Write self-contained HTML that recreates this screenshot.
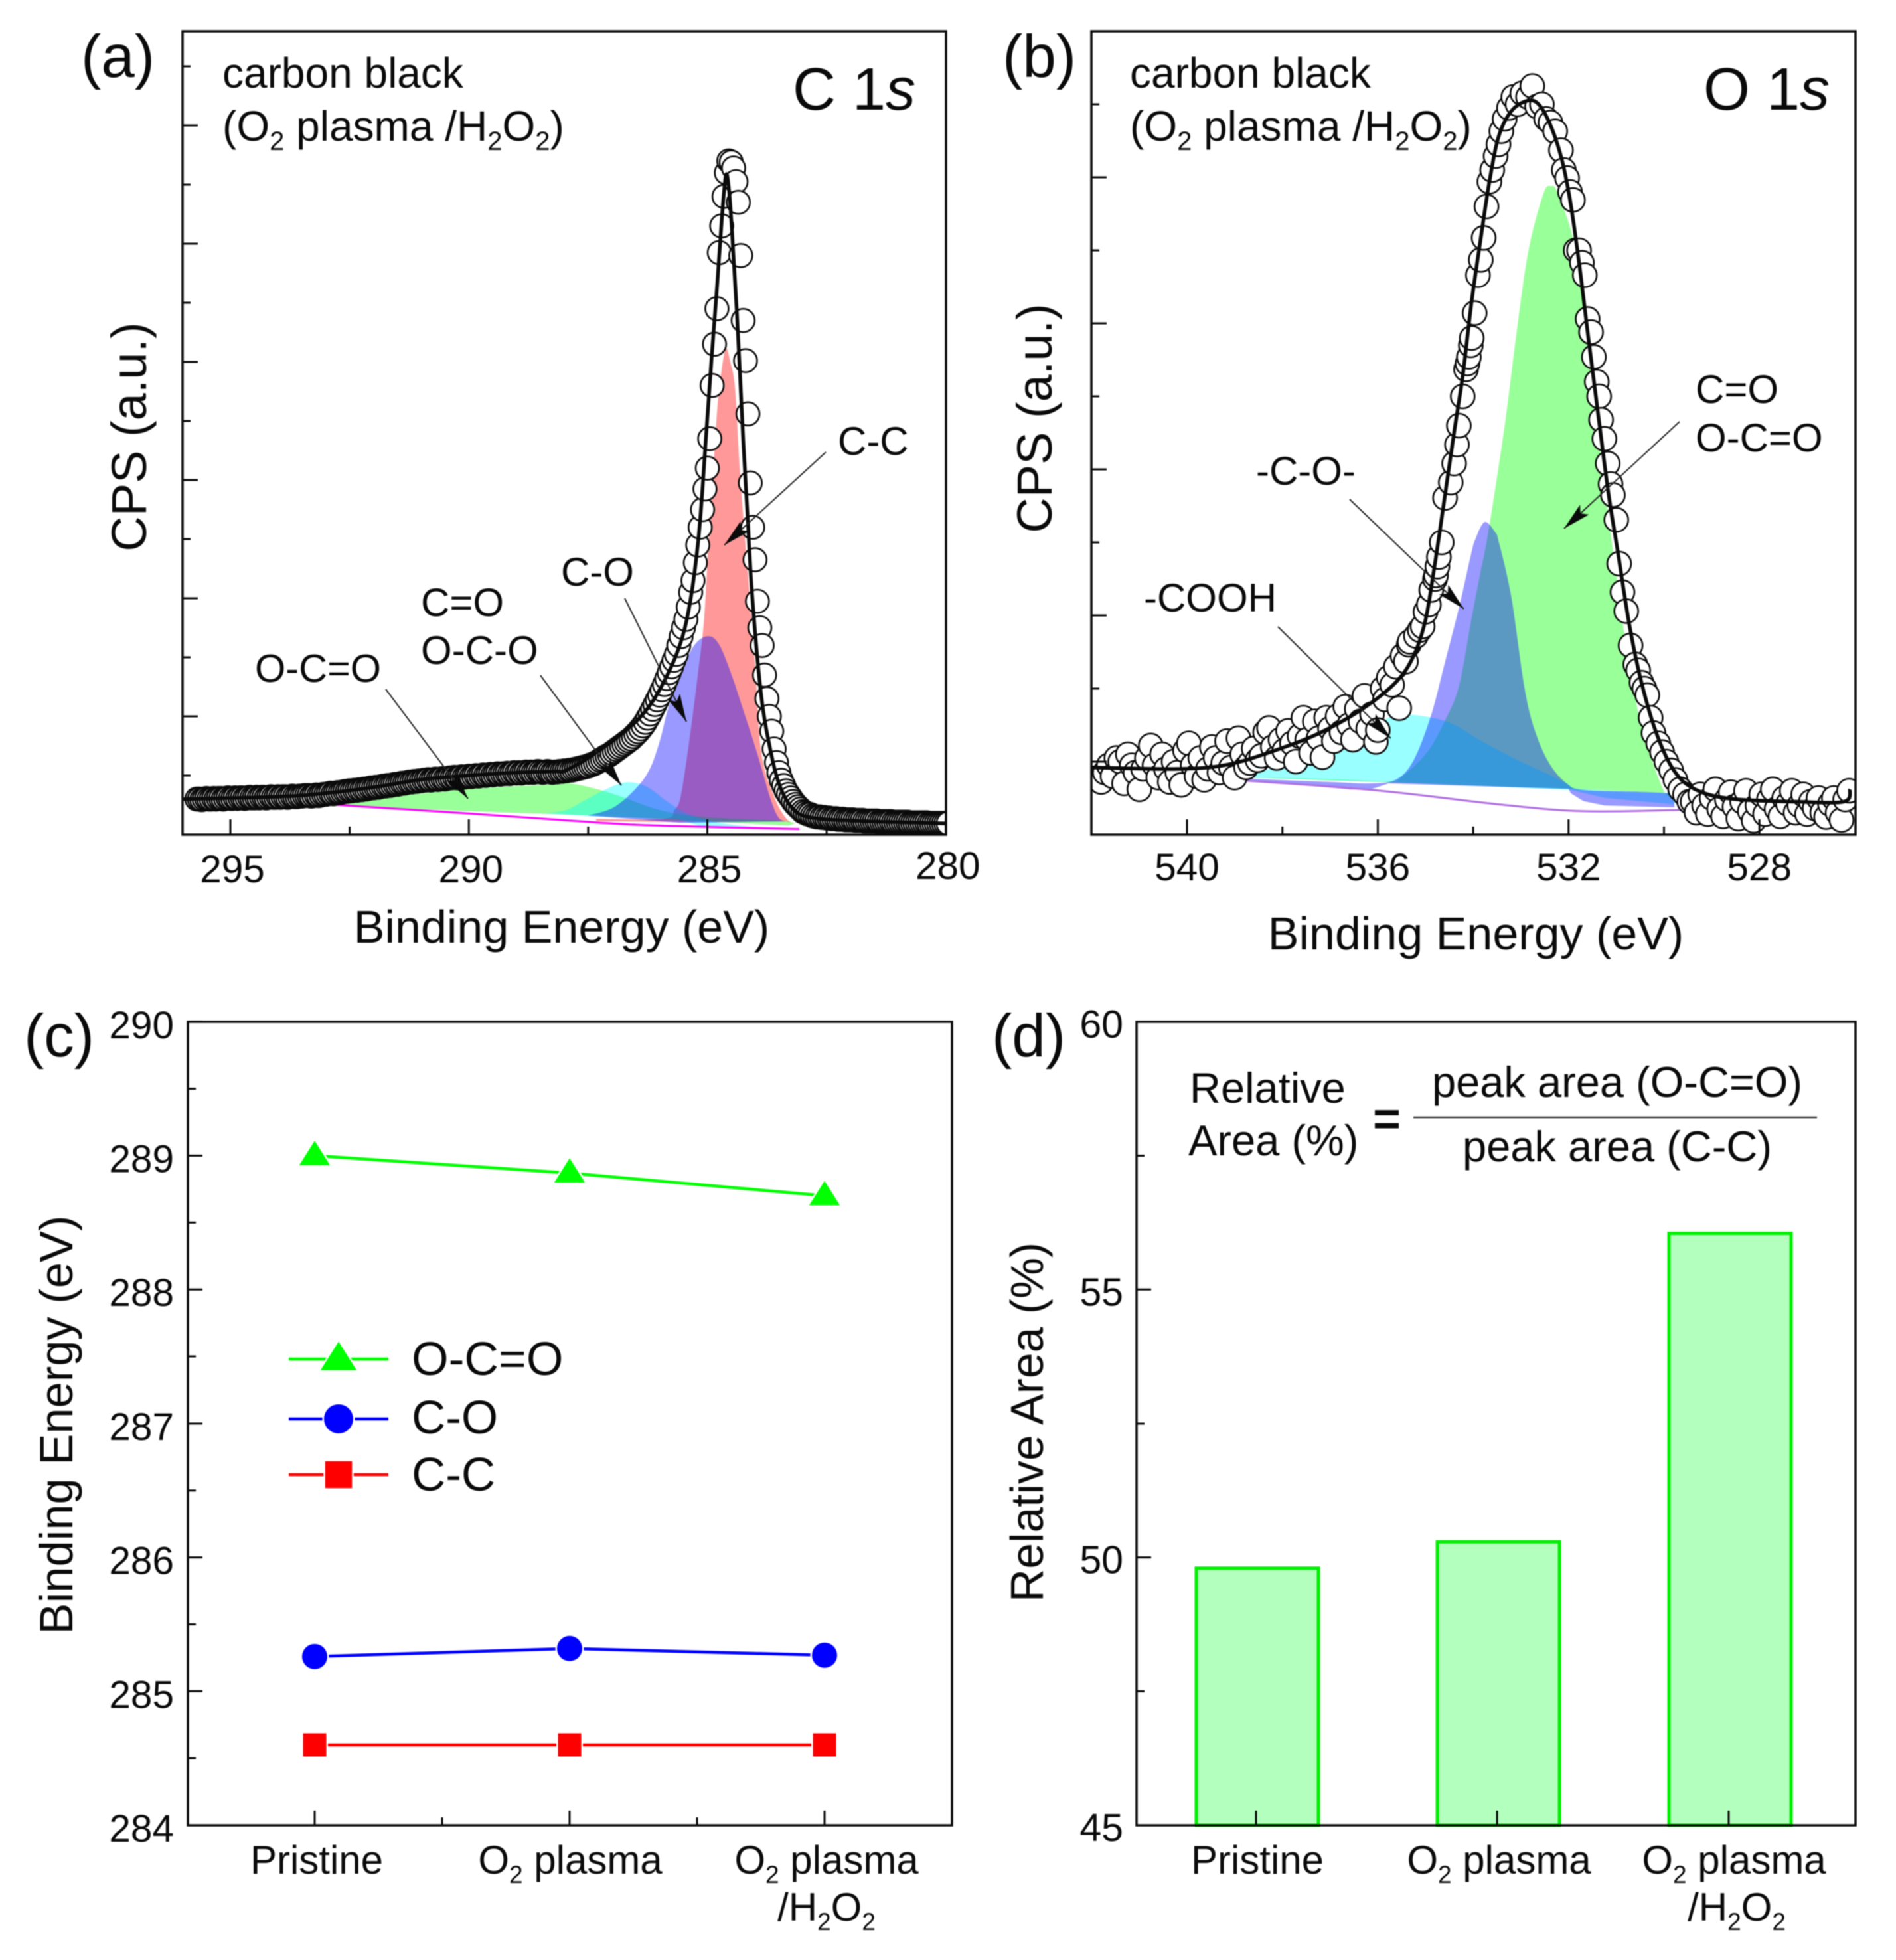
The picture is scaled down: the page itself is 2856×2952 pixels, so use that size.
<!DOCTYPE html>
<html lang="en">
<head>
<meta charset="utf-8">
<title>XPS analysis of carbon black</title>
<style>
html,body{margin:0;padding:0;background:#fff;}
svg{display:block;filter:blur(0.7px);}
text{font-family:"Liberation Sans",sans-serif;fill:#0a0a0a;}
</style>
</head>
<body>
<svg id="fig" xmlns="http://www.w3.org/2000/svg" width="2856" height="2952" viewBox="0 0 2856 2952">
  <defs>
    <clipPath id="clipA"><rect x="275" y="47" width="1150" height="1210"/></clipPath>
    <clipPath id="clipB"><rect x="1644" y="47" width="1151" height="1210"/></clipPath>
  </defs>
  <rect x="0" y="0" width="2856" height="2952" fill="#fff"/>
  <g id="panelA"></g>
  <g id="panelB"></g>
  <g id="panelC"></g>
  <g id="panelD"></g>

  <g>
    <text x="122" y="116" font-size="91">(a)</text>
    <text x="335" y="132" font-size="64">carbon black</text>
    <text x="335" y="212" font-size="64">(O<tspan dy="14" font-size="40">2</tspan><tspan dy="-14"> plasma /H</tspan><tspan dy="14" font-size="40">2</tspan><tspan dy="-14">O</tspan><tspan dy="14" font-size="40">2</tspan><tspan dy="-14">)</tspan></text>
    <text x="1194" y="165" font-size="90">C 1<tspan font-style="italic">s</tspan></text>
    <text x="846" y="1420" font-size="70" text-anchor="middle">Binding Energy (eV)</text>
    <text transform="translate(220 658) rotate(-90)" font-size="74" text-anchor="middle">CPS (a.u.)</text>
    <text x="1262" y="685" font-size="60">C-C</text>
    <text x="845" y="882" font-size="60">C-O</text>
    <text x="634" y="928" font-size="60">C=O</text>
    <text x="634" y="1000" font-size="60">O-C-O</text>
    <text x="384" y="1027" font-size="59.5">O-C=O</text>
  </g>

  <g>
    <text x="1510" y="116" font-size="91">(b)</text>
    <text x="1702" y="132" font-size="64">carbon black</text>
    <text x="1702" y="212" font-size="64">(O<tspan dy="14" font-size="40">2</tspan><tspan dy="-14"> plasma /H</tspan><tspan dy="14" font-size="40">2</tspan><tspan dy="-14">O</tspan><tspan dy="14" font-size="40">2</tspan><tspan dy="-14">)</tspan></text>
    <text x="2566" y="165" font-size="90">O 1<tspan font-style="italic">s</tspan></text>
    <text x="2223" y="1430" font-size="70" text-anchor="middle">Binding Energy (eV)</text>
    <text transform="translate(1584 630) rotate(-90)" font-size="74" text-anchor="middle">CPS (a.u.)</text>
    <text x="2554" y="607" font-size="60">C=O</text>
    <text x="2554" y="680" font-size="60">O-C=O</text>
    <text x="1892" y="730" font-size="60">-C-O-</text>
    <text x="1723" y="921" font-size="60">-COOH</text>
  </g>

  <g>
    <text x="36" y="1591" font-size="91">(c)</text>
    <text transform="translate(109 2146) rotate(-90)" font-size="70.5" text-anchor="middle">Binding Energy (eV)</text>
    <text x="620" y="2071" font-size="71.5">O-C=O</text>
    <text x="620" y="2159" font-size="71">C-O</text>
    <text x="620" y="2245" font-size="71">C-C</text>
  </g>

  <g>
    <text x="1494" y="1591" font-size="91">(d)</text>
    <text transform="translate(1571 2142) rotate(-90)" font-size="69.7" text-anchor="middle">Relative Area (%)</text>
    <text x="1792" y="1661" font-size="65">Relative</text>
    <text x="1790" y="1740" font-size="65">Area (%)</text>
    <text x="2089" y="1710" font-size="72" font-weight="bold" text-anchor="middle">=</text>
    <text x="2436" y="1652" font-size="65" text-anchor="middle">peak area (O-C=O)</text>
    <line x1="2129" y1="1683" x2="2737" y2="1683" stroke="#333" stroke-width="2.5"/>
    <text x="2436" y="1749" font-size="65" text-anchor="middle">peak area (C-C)</text>
  </g>
</svg>

<script>
/* ---------- Panel (a) C 1s data ---------- */
const cScanStart = 295.7;
const cScanStep = 0.05;
const cScanCPS = [
.6,.6,.59,.6,.61,.6,.6,.61,.6,.61,.61,.6,.61,.62,.61,.61,.62,.61,.62,.62,.61,.62,.63,.62,.62,.63,.62,.63,.63,.62,.63,.64,.63,.63,.64,.63,.64,.64,.63,.64,.65,.64,.64,.65,
.65,.66,.66,.66,.65,.66,.67,.66,.67,.68,.68,.69,.7,.69,.7,.71,.71,.72,.73,.73,.74,.74,.75,.75,.76,.76,.77,.77,.78,.79,.79,.8,.8,.81,.82,.82,.83,
.83,.84,.85,.85,.86,.87,.87,.88,.89,.89,.9,.9,.91,.91,.92,.92,.93,.92,.93,.94,.93,.94,.95,.94,.95,.96,
.96,.97,.96,.97,.98,.97,.98,.99,.98,.99,1,.99,1,1.01,1,1.01,1.02,1.01,1.02,1.03,1.02,1.03,1.03,1.04,1.03,1.04,1.05,1.04,
1.05,1.04,1.05,1.06,1.05,1.06,1.05,1.06,1.07,1.06,1.05,1.06,1.07,1.06,1.05,1.06,1.06,1.07,
1.07,1.08,1.08,1.09,1.09,1.1,1.11,1.12,1.13,1.14,1.15,1.16,1.18,1.19,1.21,1.23,1.26,
1.28,1.31,1.33,1.35,1.38,1.41,1.44,1.47,1.5,1.53,1.56,1.59,1.62,1.66,1.7,1.74,1.79,1.84,
1.9,1.97,2.04,2.12,2.2,2.28,2.36,2.45,2.54,2.64,2.74,
2.84,2.95,3.05,3.2,3.35,3.5,3.64,
3.85,4.1,4.3,4.6,4.9,5.2,5.5,5.85,6.2,6.7,7.6,8.3,8.9,9.85,10.3,10.8,11.2,11.4,11.38,11.28,11.05,10.7,9.8,8.7,8.02,7.12,5.95,5.2,4.65,3.95,3.5,3.2,2.7,2.3,2,1.75,1.45,1.22,1.05,.92,.83,.74,.68,.62,.56,.51,.47,.43,.39,.37,.35,.34,.32,.31,.3,
.3,.29,.29,.28,.28,.27,.27,.27,.26,.26,.26,.25,.25,.25,.25,.24,.24,.24,.24,.23,.23,.23,.23,.23,.23,.22,.22,.22,.22,.22,.22,.21,.21,.21,.21,.21,.21,.21,.2,.2,.2,.2,.2,.2,.2,.2,.19,.19,.19,.19,.19,.19,.19,.19,.19
];
const cFit = [[296,.6],[294,.64],[293,.7],[292,.8],[291,.93],[290,1],[289,1.05],[288.2,1.07],[287.96,1.09],[287.33,1.39],[286.45,1.95],[285.91,2.59],[285.47,3.5],[285.2,4.9],[285.03,6.7],[284.9,8.19],[284.79,9.35],[284.69,10.5],[284.61,11.16],[284.55,10.94],[284.49,10.3],[284.38,8.82],[284.25,6.7],[284.16,5.43],[284.06,4.05],[283.87,2.35],[283.67,1.4],[283.48,.82],[283.22,.45],[282.84,.29],[281.8,.23],[280,.19]];
const cCCTop = [[287.33,.266],[285.91,.266],[285.69,.416],[285.56,.641],[285.38,1.577],[285.2,2.7],[285.07,3.637],[284.96,5.135],[284.9,5.85],[284.79,7.23],[284.7,7.87],[284.61,8.23],[284.52,8],[284.42,7.55],[284.32,6.17],[284.19,4.79],[284,2.89],[283.87,1.39],[283.6,.641],[283.34,.266],[283.16,.191]];
const cCCBase = [[283.34,.22],[285.91,.215],[287.33,.229]];
const cOCOTop = [[292.84,.491],[291.77,.622],[289.99,.772],[288.22,.847],[287.87,.865],[287.33,.772],[286.8,.641],[286,.416],[285.11,.3],[283.5,.235],[283.16,.19]];
const cOCOBase = [[283.3,.155],[285,.22],[287.33,.322],[289.99,.397]];
const cCOOTop = [[288.4,.36],[287.96,.416],[287.6,.566],[287.16,.753],[286.71,.884],[286.27,.809],[285.82,.547],[285.38,.341],[284.67,.191],[283.78,.116],[283.16,.097]];
const cCOOBase = [[285.11,.135],[285.65,.266],[287.33,.304]];
const cCOTop = [[287.51,.322],[286.98,.453],[286.53,.753],[286.22,1.09],[286,1.577],[285.82,2.139],[285.56,2.7],[285.29,3.187],[285,3.356],[284.76,3.225],[284.49,2.7],[284.23,2.064],[283.96,1.39],[283.69,.641],[283.52,.304],[283.38,.225]];
const cCOBase = [[285.56,.2]];
const cBackground = [[292.84,.506],[289.99,.356],[287.33,.206],[285.91,.15],[283.07,.094]];
const cXMajor = [295,290,285,280];
const cXMinor = [292.5,287.5,282.5];
const cYTicks = [1,2,3,4,5,6,7,8,9,10,11,12,13];

/* ---------- Panel (b) O 1s data ---------- */
const oScanStart = 541.8;
const oScanStep = 0.08;
const oScanCPS = [
.72,.85,.95,.8,1.05,1,.7,1.1,.95,.85,.62,.9,1.05,1.22,.95,.78,1.1,.9,.72,1,.85,.68,1.15,1.25,.95,.8,1.05,.75,.9,1.2,1.05,.85,.98,1.28,.92,.78,
1.32,1.1,.92,.98,1.18,1.02,1.08,1.4,1.46,1.2,1.05,1.3,1.15,1.42,1.25,1,1.35,1.6,1.3,1.12,1.55,1.32,
1.06,1.6,1.45,1.28,1.62,1.4,1.75,1.5,1.3,1.72,1.55,1.9,1.45,1.65,1.27
];
const oPeakPoints = [[536,1.43],[535.9,2],[535.85,1.85],[535.77,2.15],[535.7,2.05],[535.62,2.3],[535.55,1.73],[535.48,2.45],[535.41,2.37],[535.35,2.6],[535.33,2.64],[535.2,2.72],[535.12,2.8],[535.06,2.85],[535,3.05],[534.93,3.15],[534.88,3.35],[534.8,3.5],[534.78,3.55],[534.75,3.67],[534.72,3.8],[534.66,4],[534.59,4.61],[534.47,4.82],[534.4,5.08],[534.34,5.34],[534.3,5.6],[534.22,6],[534.15,6.37],[534.12,6.45],[534.09,6.54],[534.05,6.7],[534.03,6.8],[533.97,7.14],[533.9,7.66],[533.84,7.87],[533.78,8.17],[533.72,8.6],[533.66,8.94],[533.6,9.1],[533.53,9.29],[533.47,9.45],[533.41,9.63],[533.34,9.8],[533.25,9.95],[533.16,10.1],[533.07,10],[532.97,10.15],[532.85,10.1],[532.76,10.25],[532.66,9.97],[532.56,10],[532.47,9.8],[532.38,9.75],[532.28,9.63],[532.16,9.37],[532.1,9.1],[532.03,8.99],[531.97,8.8],[531.91,8.69],[531.85,8],[531.78,8],[531.72,7.83],[531.66,7.66],[531.6,7.06],[531.53,6.88],[531.47,6.54],[531.41,6.2],[531.36,6],[531.32,5.68],[531.25,5.42],[531.18,5.08],[531.12,4.8],[531.07,4.65],[531,4.31],[530.94,3.71],[530.87,3.32],[530.79,3.06],[530.7,2.59],[530.6,2.33],[530.54,2.25],[530.47,2.08],[530.41,2],[530.35,1.91],[530.28,1.6],[530.22,1.39],[530.12,1.25],[530.04,1.13],[529.95,1],[529.85,.88],[529.76,.75],[529.66,.62],[529.56,.55],[529.47,.45]];
const oTailStart = 529.4;
const oTailStep = 0.08;
const oTailCPS = [.45,.3,.55,.4,.28,.5,.62,.35,.25,.48,.58,.38,.22,.45,.6,.32,.19,.4,.55,.28,.48,.62,.35,.25,.5,.42,.6,.3,.4,.55,.28,.45,.36,.5,.3,.24,.42,.5,.3,.2,.48,.6];
const oFit = [[542,.92],[540.2,.9],[539.14,.96],[538.08,1.17],[537.19,1.4],[536.3,1.73],[535.6,2.1],[535.24,2.46],[535,2.94],[534.84,3.55],[534.7,4.155],[534.4,5.51],[534.22,6.28],[534.03,7.31],[533.84,8.17],[533.66,8.94],[533.47,9.55],[533.22,9.89],[532.91,10.04],[532.66,10.02],[532.41,9.76],[532.16,9.29],[531.97,8.69],[531.78,7.83],[531.6,6.88],[531.35,5.6],[531.16,4.65],[530.97,3.88],[530.72,2.85],[530.47,2.08],[530.16,1.39],[529.79,.876],[529.35,.62],[528.6,.49],[527.23,.45],[526.23,.45],[526.1,.62]];
const oGreenTop = [[539.14,.79],[537.01,.76],[535.77,.73],[535.5,.79],[534.97,1.125],[534.6,1.55],[534.3,2.03],[534.04,2.94],[533.86,3.55],[533.68,4.155],[533.34,5.6],[533.09,6.88],[532.84,8],[532.53,8.77],[532.37,8.88],[532.22,8.77],[531.85,8],[531.6,6.63],[531.29,5],[530.98,3.45],[530.67,2.08],[530.35,1.22],[529.98,.575],[529.78,.564]];
const oGreenBase = [[532,.625],[535.77,.716]];
const oCyanTop = [[539.14,.79],[538.6,.837],[537.9,.97],[537,1.12],[535.77,1.6],[535.33,1.64],[534.79,1.59],[534.35,1.49],[533.82,1.28],[533,1],[532.3,.79],[532,.685],[531.69,.62],[529.78,.564]];
const oCyanBase = [[529.78,.413],[531.24,.503],[531.95,.61],[535.6,.716]];
const oBlueTop = [[539.14,.777],[537.01,.72],[536.12,.7],[535.6,.76],[535.24,1.03],[534.88,1.64],[534.6,2.34],[534.3,3.1],[534.04,3.85],[533.95,4.05],[533.76,4.28],[533.54,4.14],[533.46,4],[533.2,3.25],[532.93,2.03],[532.71,1.43],[532.4,.97],[532.04,.7],[531.69,.61],[530.5,.585],[529.8,.564]];
const oBlueBase = [[529.78,.373],[531.24,.397],[531.69,.458],[531.95,.564],[532,.625],[535.77,.7],[536.12,.625],[536.57,.615]];
const oBackground = [[542,.85],[539.32,.76],[536.12,.61],[533.46,.413],[531.69,.32],[529.5,.34],[528,.38],[526,.46]];
const oXMajor = [540,536,532,528];
const oXMinor = [538,534,530];
const oYTicks = [1,2,3,4,5,6,7,8,9,10];

/* ---------- Panel (c) data ---------- */
const peakCategories = [1,2,3];
const ocoEnergy = [289.0,288.87,288.7];
const coEnergy = [285.26,285.32,285.27];
const ccEnergy = [284.6,284.6,284.6];
const energyTicks = [284,285,286,287,288,289,290];
const energyMinorTicks = [284.5,285.5,286.5,287.5,288.5,289.5];

/* ---------- Panel (d) data ---------- */
const barCoords = [1,2.02,3];
const relativeArea = [49.8,50.29,56.05];
const areaTicks = [45,50,55,60];
const areaMinorTicks = [47.5,52.5,57.5];

/* ---------- helpers ---------- */
const NS = 'http://www.w3.org/2000/svg';
function make(tag, attrs, parent){
  const n = document.createElementNS(NS, tag);
  for(const k in attrs){ n.setAttribute(k, attrs[k]); }
  parent.appendChild(n);
  return n;
}
function smooth(points){
  let d = 'M' + points[0][0].toFixed(1) + ' ' + points[0][1].toFixed(1);
  for(let i=0;i<points.length-1;i++){
    const p0 = points[Math.max(i-1,0)], p1 = points[i], p2 = points[i+1], p3 = points[Math.min(i+2,points.length-1)];
    const c1x = p1[0]+(p2[0]-p0[0])/6, c1y = p1[1]+(p2[1]-p0[1])/6;
    const c2x = p2[0]-(p3[0]-p1[0])/6, c2y = p2[1]-(p3[1]-p1[1])/6;
    d += 'C'+c1x.toFixed(1)+' '+c1y.toFixed(1)+' '+c2x.toFixed(1)+' '+c2y.toFixed(1)+' '+p2[0].toFixed(1)+' '+p2[1].toFixed(1);
  }
  return d;
}
function project(pairs, sx, sy){ return pairs.map(p=>[sx(p[0]), sy(p[1])]); }
function areaPath(top, base, sx, sy){
  let d = smooth(project(top, sx, sy));
  project(base, sx, sy).forEach(p=>{ d += 'L'+p[0].toFixed(1)+' '+p[1].toFixed(1); });
  return d + 'Z';
}
function arrowHead(x1,y1,x2,y2,len,wid){
  const L = Math.hypot(x2-x1,y2-y1), ux=(x2-x1)/L, uy=(y2-y1)/L;
  const bx=x2-ux*len, by=y2-uy*len;
  return x2+','+y2+' '+(bx-uy*wid/2)+','+(by+ux*wid/2)+' '+(bx+ux*len*.2)+','+(by+uy*len*.2)+' '+(bx+uy*wid/2)+','+(by-ux*wid/2);
}

const A = document.getElementById('panelA');
const B = document.getElementById('panelB');
const C = document.getElementById('panelC');
const D = document.getElementById('panelD');

/* axis functions */
const xA = be => 1065.5 + (285-be)*71.85;
const yA = v => 1257 - v*89;
const xB = be => 1788 + (540-be)*71.85;
const yB = v => 1257 - v*110;
const xC = c => 474 + (c-1)*384;
const yC = e => 2749 - (e-284)*201.7;
const xD = c => 1892 + (c-1)*356;
const yD = a => 2749 - (a-45)*80.67;

/* generic xps panel */
function drawFills(parent, fills, sx, sy){
  fills.forEach(f=>{
    const a = make('path',{d:areaPath(f.top,f.base,sx,sy),fill:f.color,'fill-opacity':.4},parent);
    
    
  });
}

/* ---- Panel A marks ---- */
drawFills(A,[
  {name:'peak-c-c-area',top:cCCTop,base:cCCBase,color:'#ff0000'},
  {name:'peak-o-c-double-o-area',top:cOCOTop,base:cOCOBase,color:'#00ff00'},
  {name:'peak-c-double-o-area',top:cCOOTop,base:cCOOBase,color:'#00ffff'},
  {name:'peak-c-o-area',top:cCOTop,base:cCOBase,color:'#0000ff'}
],xA,yA);
const bgA = make('path',{d:smooth(project(cBackground,xA,yA)),fill:'none',stroke:'#ff00ff','stroke-width':3},A);


const ptsA = make('g',{'clip-path':'url(#clipA)'},A);


cScanCPS.forEach((v,i)=>{
  const pt = make('circle',{cx:xA(cScanStart-i*cScanStep).toFixed(1),cy:yA(v).toFixed(1),r:17.5,fill:'#fff',stroke:'#0a0a0a','stroke-width':2.6},ptsA);
  
  
});
const fitA = make('path',{d:smooth(project(cFit,xA,yA)),fill:'none',stroke:'#0a0a0a','stroke-width':5.5},A);



/* ---- Panel B marks ---- */
drawFills(B,[
  {name:'peak-b-c-double-o-area',top:oGreenTop,base:oGreenBase,color:'#00ff00'},
  {name:'peak-b-cooh-area',top:oCyanTop,base:oCyanBase,color:'#00ffff'},
  {name:'peak-b-c-o-area',top:oBlueTop,base:oBlueBase,color:'#0000ff'}
],xB,yB);
const bgB = make('path',{d:smooth(project(oBackground,xB,yB)),fill:'none',stroke:'#b070e0','stroke-width':3},B);


const ptsB = make('g',{'clip-path':'url(#clipB)'},B);


const oAll = oScanCPS.map((v,i)=>[oScanStart-i*oScanStep,v]).concat(oPeakPoints).concat(oTailCPS.map((v,i)=>[oTailStart-i*oTailStep,v]));
oAll.forEach(p=>{
  const pt = make('circle',{cx:xB(p[0]).toFixed(1),cy:yB(p[1]).toFixed(1),r:18,fill:'#fff',stroke:'#0a0a0a','stroke-width':2.6},ptsB);
  
  
});
const fitB = make('path',{d:smooth(project(oFit,xB,yB)),fill:'none',stroke:'#0a0a0a','stroke-width':5.5},B);



/* ---- frames and ticks ---- */
function frame(parent,l,t,r,b){
  const f = make('rect',{x:l,y:t,width:r-l,height:b-t,fill:'none',stroke:'#0a0a0a','stroke-width':3.5},parent);
  
  
}
function xTick(parent,x,bottom,len){
  const t = make('line',{x1:x,y1:bottom,x2:x,y2:bottom-len,stroke:'#0a0a0a','stroke-width':3},parent);
  
  
}
function yTick(parent,y,left,len){
  const t = make('line',{x1:left,y1:y,x2:left+len,y2:y,stroke:'#0a0a0a','stroke-width':3},parent);
  
  
}
function label(parent,x,y,size,anchor,txt){
  const t = make('text',{x:x,y:y,'font-size':size,'text-anchor':anchor},parent);
  t.textContent = txt;
  
  
  return t;
}

frame(A,275,47,1425,1257);
cXMajor.forEach(v=>{ xTick(A,xA(v),1257,23); label(A,xA(v)+3,v===280?1324:1329,58.5,'middle',String(v)); });
cXMinor.forEach(v=>xTick(A,xA(v),1257,12));
cYTicks.forEach(v=>yTick(A,yA(v),275,v%2===0?23:12));

frame(B,1644,47,2795,1257);
oXMajor.forEach(v=>{ xTick(B,xB(v),1257,23); label(B,xB(v),1326,58.5,'middle',String(v)); });
oXMinor.forEach(v=>xTick(B,xB(v),1257,12));
oYTicks.forEach(v=>yTick(B,yB(v),1644,v%2===1?23:12));

/* ---- annotation arrows ---- */
function annotate(parent,name,x1,y1,x2,y2){
  const L = make('line',{x1:x1,y1:y1,x2:x2,y2:y2,stroke:'#222','stroke-width':2},parent);
  
  
  const H = make('polygon',{points:arrowHead(x1,y1,x2,y2,42,20),fill:'#0a0a0a'},parent);
  
  
}
annotate(A,'arrow-c-c',1244,681,1091,821);
annotate(A,'arrow-c-o',941,901,1034,1087);
annotate(A,'arrow-c-double-o',814,1017,936,1183);
annotate(A,'arrow-o-c-double-o',581,1038,705,1203);
annotate(B,'arrow-b-c-double-o',2530,635,2356,796);
annotate(B,'arrow-b-c-o',2033,752,2205,917);
annotate(B,'arrow-b-cooh',1925,944,2095,1112);

/* ---- category labels with subscripts ---- */
function o2Label(parent,x,y,name){
  const t = make('text',{x:x,y:y,'font-size':60,'text-anchor':'middle'},parent);
  t.innerHTML = 'O<tspan dy="14" font-size="37">2</tspan><tspan dy="-14"> plasma</tspan>';
  
  
}
function h2o2Label(parent,x,y,name){
  const t = make('text',{x:x,y:y,'font-size':60,'text-anchor':'middle'},parent);
  t.innerHTML = '/H<tspan dy="14" font-size="37">2</tspan><tspan dy="-14">O</tspan><tspan dy="14" font-size="37">2</tspan>';
  
  
}

/* ---- Panel C ---- */
frame(C,283,1539,1434,2749);
energyTicks.forEach(v=>{ yTick(C,yC(v),283,22); label(C,262,yC(v)+25,58.5,'end',String(v)); });
energyMinorTicks.forEach(v=>yTick(C,yC(v),283,12));
peakCategories.forEach(c=>xTick(C,xC(c),2749,22));
[1.5,2.5].forEach(c=>xTick(C,xC(c),2749,12));
label(C,477,2822,60,'middle','Pristine');
o2Label(C,859,2822,'category-o2-plasma');
o2Label(C,1245,2822,'category-o2-plasma-h2o2-line-1');
h2o2Label(C,1245,2893,'category-o2-plasma-h2o2-line-2');

function markerAt(parent,kind,x,y,color,size,name){
  let m;
  if(kind==='tri'){
    m = make('polygon',{points:x+','+(y-size*.56)+' '+(x-size*.58)+','+(y+size*.36)+' '+(x+size*.58)+','+(y+size*.36),fill:color,stroke:'#fff','stroke-width':5,'paint-order':'stroke'},parent);
  } else if(kind==='circle'){
    m = make('circle',{cx:x,cy:y,r:size*.5,fill:color,stroke:'#fff','stroke-width':5,'paint-order':'stroke'},parent);
  } else {
    m = make('rect',{x:x-size*.46,y:y-size*.46,width:size*.92,height:size*.92,fill:color,stroke:'#fff','stroke-width':5,'paint-order':'stroke'},parent);
  }
  
  
}
[
  {name:'o-c-double-o',vals:ocoEnergy,color:'#00ff00',kind:'tri',size:40},
  {name:'c-o',vals:coEnergy,color:'#0000ff',kind:'circle',size:38},
  {name:'c-c',vals:ccEnergy,color:'#ff0000',kind:'square',size:38}
].forEach(s=>{
  const ln = make('polyline',{points:s.vals.map((v,i)=>xC(peakCategories[i])+','+yC(v)).join(' '),fill:'none',stroke:s.color,'stroke-width':4.5},C);
  
  
  s.vals.forEach((v,i)=>markerAt(C,s.kind,xC(peakCategories[i]),yC(v),s.color,s.size,'series-point-'+s.name));
});
[
  {name:'o-c-double-o',y:2047,color:'#00ff00',kind:'tri',size:47},
  {name:'c-o',y:2137,color:'#0000ff',kind:'circle',size:44},
  {name:'c-c',y:2221,color:'#ff0000',kind:'square',size:44}
].forEach(s=>{
  const ln = make('line',{x1:435,y1:s.y,x2:585,y2:s.y,stroke:s.color,'stroke-width':4.5},C);
  
  
  markerAt(C,s.kind,510,s.y,s.color,s.size,'legend-marker-'+s.name);
});

/* ---- Panel D ---- */
relativeArea.forEach((v,i)=>{
  const cx = xD(barCoords[i]);
  const bar = make('rect',{x:cx-90,y:yD(v),width:184,height:yD(45)-yD(v),fill:'#b3ffbd',stroke:'#00f000','stroke-width':5},D);
  
  
});
frame(D,1712,1539,2795,2749);
areaTicks.forEach(v=>{ yTick(D,yD(v),1712,22); label(D,1692,yD(v)+24,59,'end',String(v)); });
areaMinorTicks.forEach(v=>yTick(D,yD(v),1712,12));
barCoords.forEach(c=>xTick(D,xD(c),2749,22));
label(D,1894,2822,60,'middle','Pristine');
o2Label(D,2258,2822,'bar-category-o2-plasma');
o2Label(D,2612,2822,'bar-category-o2-plasma-h2o2-line-1');
h2o2Label(D,2616,2893,'bar-category-o2-plasma-h2o2-line-2');
</script>
</body>
</html>
